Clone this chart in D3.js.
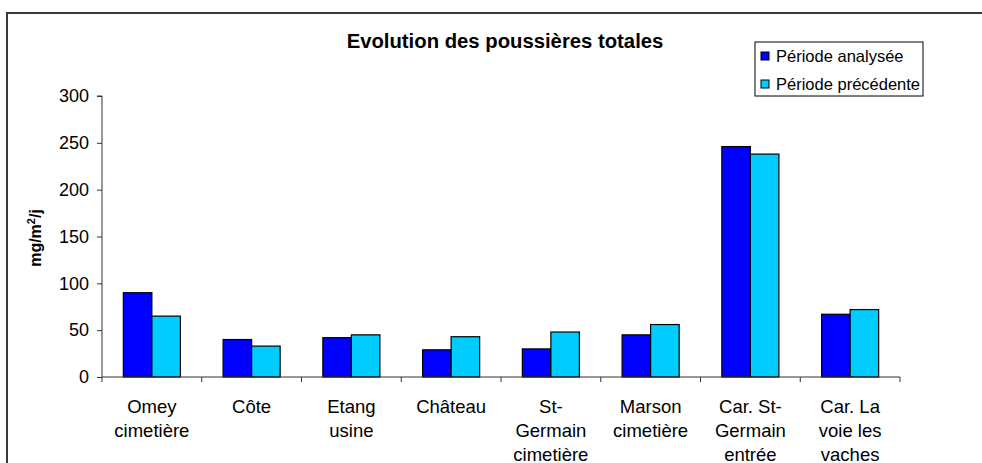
<!DOCTYPE html>
<html>
<head>
<meta charset="utf-8">
<script src="https://cdn.jsdelivr.net/npm/d3@7"></script>
<style>
  html, body { margin: 0; padding: 0; background: #fff; }
  svg { display: block; font-family: Arial, "Liberation Sans", sans-serif; }
</style>
</head>
<body>
<svg id="chart" width="982" height="463"></svg>
<script>
const categories = [
  "Omey\ncimetière",
  "Côte",
  "Etang\nusine",
  "Château",
  "St-\nGermain\ncimetière",
  "Marson\ncimetière",
  "Car. St-\nGermain\nentrée",
  "Car. La\nvoie les\nvaches"
];
const seriesNames = ["Période analysée", "Période précédente"];
const seriesColors = ["#0000FF", "#00CCFF"];
const periodeAnalysee   = [90, 40, 42, 29, 30, 45, 246, 67];
const periodePrecedente = [65, 33, 45, 43, 48, 56, 238, 72];
const yTicks = [0, 50, 100, 150, 200, 250, 300];
const title = "Evolution des poussières totales";

const series = [periodeAnalysee, periodePrecedente];
const svg = d3.select("#chart");

// outer frame
svg.append("rect").attr("x", 7).attr("y", 13).attr("width", 1000).attr("height", 500)
  .attr("fill", "none").attr("stroke", "#3a3a3a").attr("stroke-width", 2);

const x0 = d3.scaleBand().domain(d3.range(categories.length)).range([102, 900]).padding(0);
const x1 = d3.scaleBand().domain(d3.range(series.length))
  .range([x0.bandwidth() * 0.214, x0.bandwidth() * 0.786]).padding(0);
const y = d3.scaleLinear().domain([0, 300]).range([377, 96]);

// y axis
const yAxis = svg.append("g").attr("transform", "translate(102,0)")
  .call(d3.axisLeft(y).tickValues(yTicks).tickSize(5).tickPadding(8));
yAxis.select(".domain").attr("stroke", "#333").attr("d", "M-5," + y(300) + "H0V" + y(0));
yAxis.selectAll(".tick line").attr("stroke", "#333");
yAxis.selectAll(".tick text").attr("font-size", 18).attr("fill", "#000")
  .attr("font-family", "Arial, 'Liberation Sans', sans-serif");

// bars
const groups = svg.append("g").selectAll("g").data(categories).join("g")
  .attr("transform", (d, i) => `translate(${x0(i)},0)`);
groups.selectAll("rect").data((d, i) => series.map((s, k) => ({k, v: s[i]}))).join("rect")
  .attr("x", d => x1(d.k))
  .attr("y", d => y(d.v))
  .attr("width", x1.bandwidth())
  .attr("height", d => y(0) - y(d.v))
  .attr("fill", d => seriesColors[d.k])
  .attr("stroke", "#000").attr("stroke-width", 1.2);

// x axis
const xAxisG = svg.append("g");
xAxisG.append("line").attr("x1", x0.range()[0]).attr("x2", x0.range()[1])
  .attr("y1", y(0)).attr("y2", y(0)).attr("stroke", "#333");
const bounds = d3.range(categories.length + 1).map(i => x0.range()[0] + i * x0.step());
xAxisG.selectAll("line.t").data(bounds).join("line").attr("class", "t")
  .attr("x1", d => d).attr("x2", d => d).attr("y1", y(0)).attr("y2", y(0) + 5).attr("stroke", "#333");

// x labels
const lbl = svg.append("g").selectAll("text").data(categories).join("text")
  .attr("x", (d, i) => x0(i) + x0.bandwidth() / 2)
  .attr("y", y(0) + 36)
  .attr("text-anchor", "middle").attr("font-size", 18.5).attr("fill", "#000");
lbl.each(function(d) {
  const t = d3.select(this);
  d.split("\n").forEach((line, j) => {
    t.append("tspan").attr("x", t.attr("x")).attr("dy", j === 0 ? 0 : 24).text(line);
  });
});

// title
svg.append("text").attr("x", 505).attr("y", 48).attr("text-anchor", "middle")
  .attr("font-size", 20.3).attr("font-weight", "bold").text(title);

// y label
const yl = svg.append("text").attr("transform", "translate(41,238) rotate(-90)")
  .attr("text-anchor", "middle").attr("font-size", 16).attr("font-weight", "bold");
yl.append("tspan").text("mg/m");
yl.append("tspan").attr("font-size", 11).attr("dy", -6).text("2");
yl.append("tspan").attr("dy", 6).text("/j");

// legend
const lg = svg.append("g");
lg.append("rect").attr("x", 755).attr("y", 42).attr("width", 168).attr("height", 54)
  .attr("fill", "#fff").attr("stroke", "#000").attr("stroke-width", 1);
const li = lg.selectAll("g.item").data(seriesNames).join("g").attr("class", "item")
  .attr("transform", (d, i) => `translate(761,${52 + i * 28})`);
li.append("rect").attr("width", 8).attr("height", 8)
  .attr("fill", (d, i) => seriesColors[i]).attr("stroke", "#000").attr("stroke-width", 1);
li.append("text").attr("x", 15).attr("y", 9.5).attr("font-size", 16.5).text(d => d);
</script>
</body>
</html>
